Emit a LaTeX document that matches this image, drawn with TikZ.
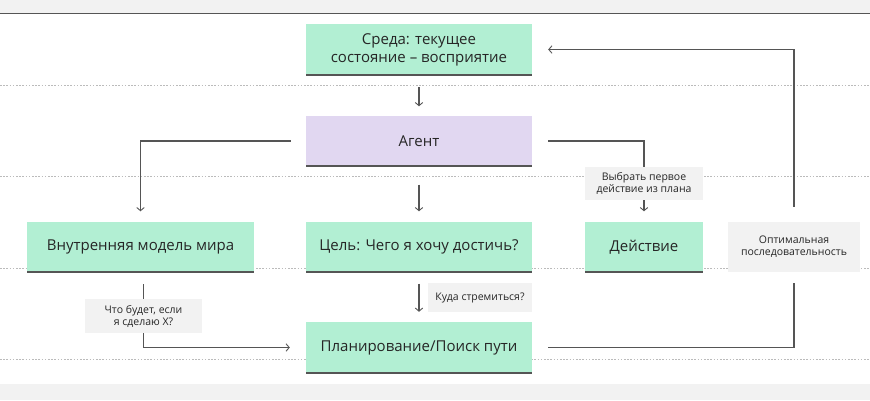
\documentclass[tikz,border=0pt]{standalone}
\usepackage{fontspec}
\setmainfont{Open Sans}
\usetikzlibrary{arrows.meta}
\definecolor{mint}{HTML}{B2EFD3}
\definecolor{lilac}{HTML}{E1D7F1}
\definecolor{band}{HTML}{F2F2F2}
\definecolor{ink}{HTML}{262626}
\definecolor{wire}{HTML}{555555}
\definecolor{dots}{HTML}{BBBBBB}
\tikzset{
  x=1pt, y=-1pt,
  box/.style={fill=mint, inner sep=0pt, minimum height=51pt, text=ink,
    font=\fontsize{15}{18}\selectfont, align=center,
    path picture={\draw[wire, line width=3pt] (path picture bounding box.south west) -- (path picture bounding box.south east);}},
  tag/.style={fill=band, inner sep=0pt, text=ink, font=\fontsize{10.5}{12}\selectfont, align=center},
  conn/.style={draw=wire, line width=1.1pt},
  arr/.style={conn, -{Straight Barb[length=3.2pt, width=7.5pt, line width=0.9pt]}},
  guide/.style={draw=dots, line width=0.8pt, dash pattern=on 1.6pt off 1.6pt}
}
\begin{document}
\begin{tikzpicture}
\useasboundingbox (0,0) rectangle (870,400);
\fill[band] (0,0) rectangle (870,13);
\draw[wire, line width=1pt] (0,13) -- (870,13);
\fill[band] (0,384) rectangle (870,400);
\foreach \yy in {85,176,268,359} \draw[guide] (0,\yy) -- (870,\yy);

\node[box, minimum width=226pt] (env) at (419,49.5) {Среда: текущее\\состояние – восприятие};
\node[box, minimum width=226pt, fill=lilac] (agent) at (419,141) {Агент};
\node[box, minimum width=227pt] (model) at (140.5,247) {Внутренняя модель мира};
\node[box, minimum width=226pt] (goal) at (419,247) {Цель: Чего я хочу достичь?};
\node[box, minimum width=118pt] (action) at (644,247) {Действие};
\node[box, minimum width=226pt] (plan) at (419,347.5) {Планирование/Поиск пути};

\node[tag, minimum width=118pt, minimum height=33pt] (choose) at (644,183.5) {Выбрать первое\\действие из плана};
\node[tag, minimum width=132pt, minimum height=50pt] (opt) at (794,247) {Оптимальная\\последовательность};
\node[tag, minimum width=117pt, minimum height=34pt] (whatif) at (143.5,316) {Что будет, если\\я сделаю X?};
\node[tag, minimum width=104pt, minimum height=29pt] (whereto) at (480,297.5) {Куда стремиться?};

\draw[arr, shorten <=12pt, shorten >=9pt] (env.south) -- (agent.north);
\draw[arr, shorten <=18pt, shorten >=10pt] (agent.south) -- (goal.north);
\draw[arr, shorten <=15pt, shorten >=10pt] (agent.west) -| (model.north);
\draw[conn, shorten <=16pt] (agent.east) -| (choose.north);
\draw[arr, shorten >=10pt] (choose.south) -- (action.north);
\draw[conn, shorten >=11pt] (whatif.north) -- (whatif.north |- model.south);
\draw[arr, shorten >=16pt] (whatif.south) |- (plan.west);
\draw[arr, shorten <=11pt, shorten >=10pt] (goal.south) -- (plan.north);
\draw[conn, shorten <=16pt, shorten >=11pt] (plan.east) -| (opt.south);
\draw[arr, shorten <=15pt, shorten >=16pt] (opt.north) |- (env.east);
\end{tikzpicture}
\end{document}
